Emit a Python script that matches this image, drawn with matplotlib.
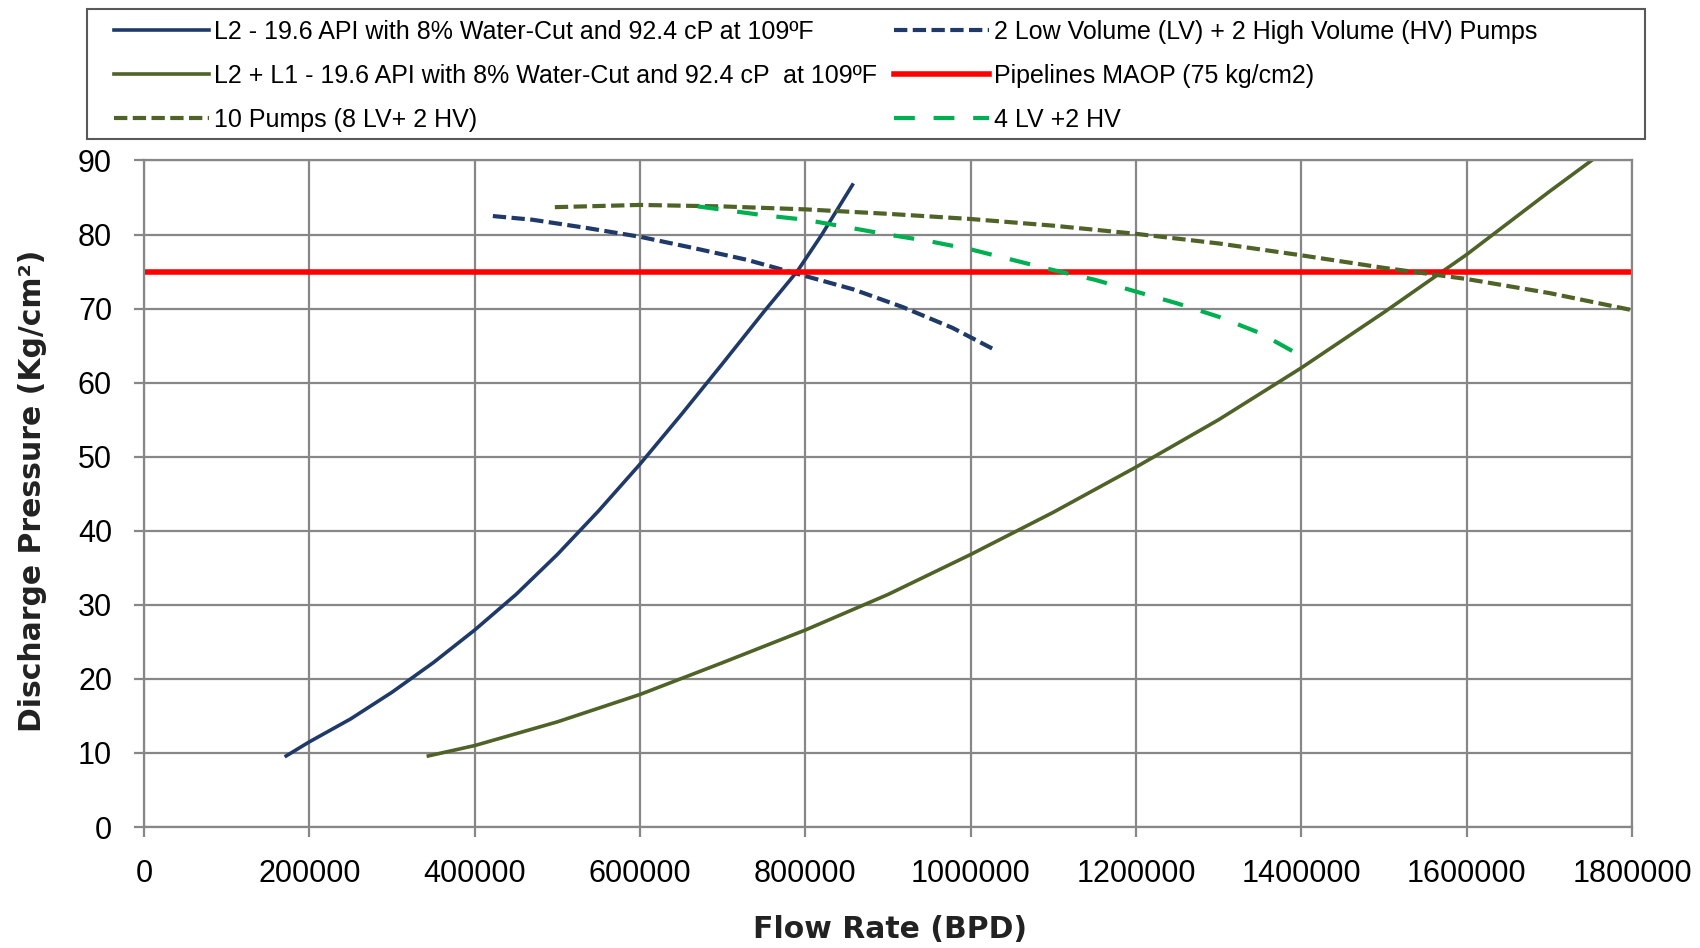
import numpy as np
import matplotlib.pyplot as plt
from matplotlib.patches import Rectangle

# ---- system curves (flow in BPD, discharge pressure in kg/cm2) ----
l2_flow = [172000, 200000, 250000, 300000, 350000, 400000, 450000, 500000,
           550000, 600000, 650000, 700000, 750000, 790000, 820000, 857000]
l2_press = [9.6, 11.5, 14.6, 18.2, 22.2, 26.6, 31.4, 36.8,
            42.7, 49.0, 55.7, 62.6, 69.6, 75.0, 80.0, 86.7]

l2l1_flow = [344000, 400000, 500000, 600000, 700000, 800000, 900000, 1000000,
             1100000, 1200000, 1300000, 1400000, 1500000, 1600000, 1700000, 1751000]
l2l1_press = [9.6, 11.0, 14.2, 17.9, 22.2, 26.6, 31.4, 36.8,
              42.5, 48.6, 55.0, 62.0, 69.5, 77.3, 85.8, 90.0]

# ---- pump curves ----
pumps_2lv2hv_flow = [422000, 470000, 535000, 600000, 664000, 729000, 800000,
                     858000, 918000, 978000, 1028000]
pumps_2lv2hv_press = [82.5, 82.0, 80.9, 79.7, 78.2, 76.6, 74.4,
                      72.6, 70.2, 67.4, 64.5]

pumps_10_flow = [497000, 600000, 700000, 800000, 900000, 1000000, 1100000,
                 1200000, 1300000, 1400000, 1500000, 1600000, 1700000, 1800000]
pumps_10_press = [83.7, 84.0, 83.8, 83.4, 82.8, 82.1, 81.2,
                  80.1, 78.8, 77.2, 75.5, 74.0, 72.1, 69.8]

pumps_4lv2hv_flow = [670000, 750000, 800000, 850000, 900000, 950000, 1000000,
                     1050000, 1100000, 1150000, 1200000, 1250000, 1300000,
                     1350000, 1400000]
pumps_4lv2hv_press = [83.8, 82.6, 82.0, 81.0, 80.0, 79.1, 78.0,
                      76.6, 75.2, 73.9, 72.3, 70.7, 68.9, 66.7, 63.6]

maop = 75
flow_range = [0, 1800000]

x_ticks = np.arange(0, 1800001, 200000)
y_ticks = np.arange(0, 91, 10)

navy = "#1F3A68"
olive = "#4F6228"
green = "#00B050"
grid_grey = "#878787"
narrow = ["Liberation Sans", "DejaVu Sans"]

fig = plt.figure(figsize=(17, 9.48), dpi=100)
ax = fig.add_axes([0.0847, 0.1276, 0.8753, 0.7031])

h1, = ax.plot(l2_flow, l2_press, color=navy, lw=2.6,
              label="L2 - 19.6 API with 8% Water-Cut and 92.4 cP at 109ºF")
h2, = ax.plot(pumps_2lv2hv_flow, pumps_2lv2hv_press, color=navy, lw=3,
              dashes=(3.2, 1.3),
              label="2 Low Volume (LV) + 2 High Volume (HV) Pumps")
h3, = ax.plot(l2l1_flow, l2l1_press, color=olive, lw=2.6,
              label="L2 + L1 - 19.6 API with 8% Water-Cut and 92.4 cP  at 109ºF")
h4, = ax.plot(flow_range, [maop, maop], color="#FF0000", lw=4,
              label="Pipelines MAOP (75 kg/cm2)")
h5, = ax.plot(pumps_10_flow, pumps_10_press, color=olive, lw=3,
              dashes=(3.2, 1.3), label="10 Pumps (8 LV+ 2 HV)")
h6, = ax.plot(pumps_4lv2hv_flow, pumps_4lv2hv_press, color=green, lw=3,
              dashes=(5, 4.5), label="4 LV +2 HV")

ax.set_xlim(0, 1800000)
ax.set_ylim(0, 90)
ax.set_xticks(x_ticks)
ax.set_yticks(y_ticks)
ax.set_xticklabels([str(v) for v in x_ticks])
ax.grid(True, color=grid_grey, lw=1.6)
ax.set_axisbelow(True)
for s in ax.spines.values():
    s.set_color(grid_grey)
    s.set_linewidth(1.6)
ax.tick_params(colors=grid_grey, length=7, width=1.6, pad=16,
               labelcolor="black")
for lab in ax.get_xticklabels() + ax.get_yticklabels():
    lab.set_fontfamily(narrow)
    lab.set_fontsize(22)

fig.text(0.5237, 0.02, "Flow Rate (BPD)", ha="center", va="center",
         fontsize=21.5, fontweight="bold", color="#222222")
fig.text(0.019, 0.482, "Discharge Pressure (Kg/cm²)", ha="center",
         va="center", rotation=90, fontsize=21.5, fontweight="bold",
         color="#222222")

# legend frame + two columns of entries
fig.add_artist(Rectangle((0.0512, 0.8534), 0.9165, 0.1371,
                         transform=fig.transFigure, fill=False,
                         edgecolor="#595959", lw=1.5))
leg_kw = dict(loc="upper left", frameon=False, borderpad=0, borderaxespad=0,
              handlelength=3.8, handletextpad=0.2, labelspacing=0.8,
              prop={"family": narrow, "size": 18},
              bbox_transform=fig.transFigure)
leg1 = fig.legend(handles=[h1, h3, h5], bbox_to_anchor=(0.067, 0.979), **leg_kw)
leg2 = fig.legend(handles=[h2, h4, h6], bbox_to_anchor=(0.526, 0.979), **leg_kw)

fig.savefig("out.png", dpi=100)
